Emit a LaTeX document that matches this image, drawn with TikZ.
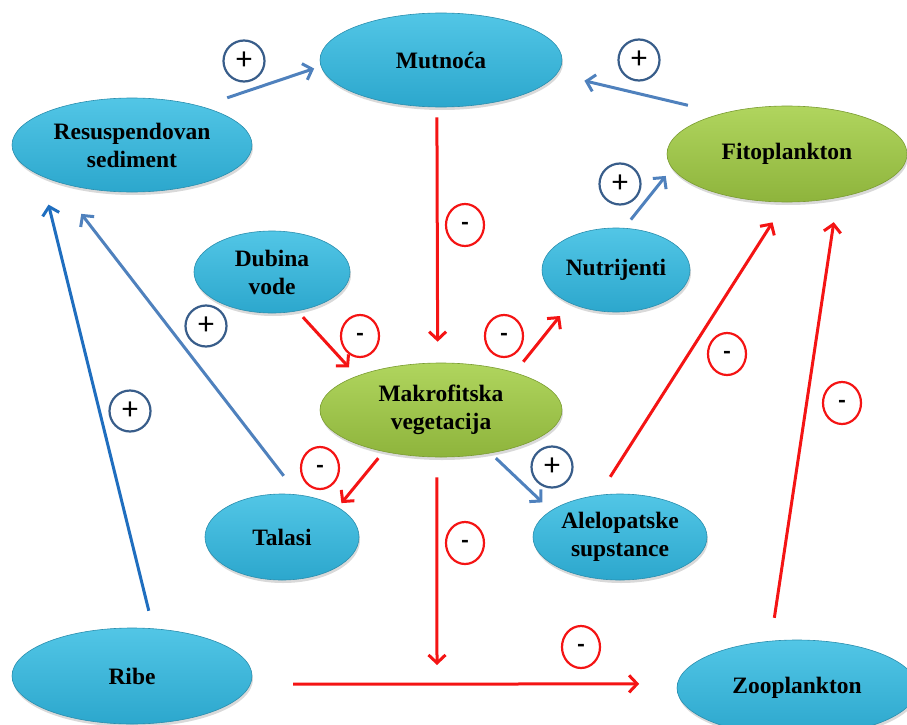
\documentclass[tikz,border=0pt]{standalone}
\usepackage{fontspec}
\setmainfont{Liberation Serif}
\newfontfamily\signfont{Carlito}
\usetikzlibrary{shapes.geometric,arrows.meta,shadows}

\definecolor{cyanTop}{HTML}{52C6E6}
\definecolor{cyanBot}{HTML}{2CA7CD}
\definecolor{cyanEdge}{HTML}{2A8EAE}
\definecolor{greenTop}{HTML}{B0D55E}
\definecolor{greenBot}{HTML}{8EB43C}
\definecolor{greenEdge}{HTML}{7A9C31}
\definecolor{posBlue}{HTML}{4F81BD}
\definecolor{fishBlue}{HTML}{1F6EBF}
\definecolor{negRed}{HTML}{F41414}
\definecolor{ringBlue}{HTML}{385D8A}

\tikzset{
  bubble/.style={ellipse, inner sep=0pt, align=center, text=black,
    font=\fontsize{23.5}{28}\selectfont\bfseries, line width=0.6pt,
    drop shadow={opacity=0.3, shadow xshift=1pt, shadow yshift=-3pt}},
  bluebubble/.style={bubble, draw=cyanEdge, top color=cyanTop, bottom color=cyanBot},
  greenbubble/.style={bubble, draw=greenEdge, top color=greenTop, bottom color=greenBot},
  link/.style={line width=3pt, -{Straight Barb[length=8pt,width=17pt]}},
  poslink/.style={link, draw=posBlue},
  neglink/.style={link, draw=negRed},
  fishlink/.style={link, draw=fishBlue},
  plussign/.style={circle, draw=ringBlue, line width=2.2pt, minimum size=41pt,
    inner sep=0pt, font=\signfont\fontsize{32}{32}\selectfont},
  minussign/.style={ellipse, draw=negRed, line width=2.2pt, minimum width=38pt,
    minimum height=42pt, inner sep=0pt, text height=11pt, text depth=0pt,
    font=\signfont\bfseries\fontsize{24}{24}\selectfont}
}

\begin{document}
\begin{tikzpicture}[x=1pt,y=-1pt]
\useasboundingbox (0,0) rectangle (907,725);
\clip (0,0) rectangle (907,725);

% factors of the lake system
\node[bluebubble, minimum width=242pt, minimum height=94pt] (M) at (441,60) {Mutnoća};
\node[bluebubble, minimum width=240pt, minimum height=94pt] (R) at (132,145) {Resuspendovan\\sediment};
\node[greenbubble, minimum width=240pt, minimum height=96pt] (F) at (787,154) {Fitoplankton};
\node[bluebubble, minimum width=156pt, minimum height=82pt] (D) at (272,272) {Dubina\\vode};
\node[bluebubble, minimum width=148pt, minimum height=84pt] (N) at (616,270) {Nutrijenti};
\node[greenbubble, minimum width=242pt, minimum height=94pt] (K) at (441,410) {Makrofitska\\vegetacija};
\node[bluebubble, minimum width=154pt, minimum height=86pt] (T) at (282,537) {Talasi};
\node[bluebubble, minimum width=174pt, minimum height=86pt] (A) at (620,537) {Alelopatske\\supstance};
\node[bluebubble, minimum width=240pt, minimum height=96pt] (Ri) at (132,676) {Ribe};
\node[bluebubble, minimum width=240pt, minimum height=96pt] (Z) at (797,688) {Zooplankton};

% where the macrophyte effect meets the fish--zooplankton link
\coordinate (kz) at (437,665);

% positive links
\draw[poslink, shorten <=27pt, shorten >=7pt] (R.29.7) -- (M.183.8);
\draw[poslink, shorten <=35pt, shorten >=28.5pt] (F.148.7) -- (M.-7.8);
\draw[poslink, shorten <=10.7pt, shorten >=10pt] (N.79) -- (F.187.7);
\draw[poslink, shorten <=23.8pt, shorten >=40.5pt] (T.69.9) -- (R.206.3);
\draw[fishlink, shorten <=18.2pt, shorten >=29.3pt] (Ri.66.8) -- (R.199.5);
\draw[poslink, shorten <=7.2pt, shorten >=11.8pt] (K.-41.5) -- (A.159.5);

% negative links
\draw[neglink, shorten <=10pt, shorten >=21pt] (M.265.1) -- (K.94.9);
\draw[neglink, shorten <=8.2pt, shorten >=11.5pt] (D.-57.8) -- (K.158.6);
\draw[neglink, shorten <=13.7pt, shorten >=16.3pt] (K.27) -- (N.216.8);
\draw[neglink, shorten <=8.4pt, shorten >=5.3pt] (K.216.2) -- (T.28.3);
\draw[neglink, shorten <=20pt] (K.265.1) -- (kz);
\draw[neglink, shorten <=42.5pt, shorten >=38pt] (Ri.-4.7) -- (Z.178.9);
\draw[neglink, shorten <=21.6pt, shorten >=23.8pt] (A.117.4) -- (F.268.7);
\draw[neglink, shorten <=23.3pt, shorten >=24.6pt] (Z.119.3) -- (F.-41.4);

% signs of the effects
\node[plussign] (s1) at (244,61) {+};
\node[plussign] (s2) at (639,60) {+};
\node[plussign] (s3) at (620,184) {+};
\node[plussign] (s4) at (206,326) {+};
\node[plussign] (s5) at (130,411) {+};
\node[plussign] (s6) at (552,467) {+};
\node[minussign] (m1) at (465,225) {-};
\node[minussign] (m2) at (360,336) {-};
\node[minussign] (m3) at (504,336) {-};
\node[minussign] (m4) at (320,468) {-};
\node[minussign] (m5) at (465,543) {-};
\node[minussign] (m6) at (581,647) {-};
\node[minussign] (m7) at (727,354) {-};
\node[minussign] (m8) at (842,403) {-};
\end{tikzpicture}
\end{document}
